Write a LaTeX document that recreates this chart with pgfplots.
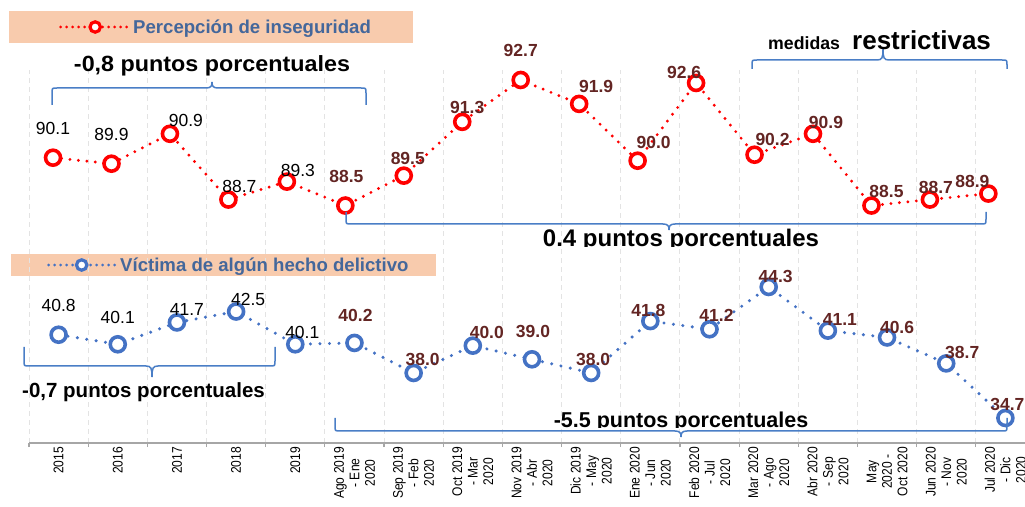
\documentclass[border=0pt]{standalone}
\usepackage{pgfplots}
\pgfplotsset{compat=1.18}
\usepackage{pgfplotstable}
\usepackage{graphicx}
\usepackage{fontspec}
\setmainfont{Liberation Sans}
\newfontfamily\narrowfont[FakeStretch=0.86]{Liberation Sans}
\definecolor{dred}{HTML}{632523}
\definecolor{legblue}{HTML}{44679B}
\definecolor{peach}{HTML}{F8CBAD}
\definecolor{mblue}{HTML}{4472C4}
\definecolor{bcol}{HTML}{4A7EC6}
\definecolor{axgray}{HTML}{A6A6A6}
\definecolor{gridc}{HTML}{E3E3E3}

\pgfplotstableread{
x y dx dy
0 90.1 0 29
1 89.9 0 29
2 90.9 16 13
3 88.7 11 13
4 89.3 11 11
5 88.5 1 29
6 89.5 4 17
7 91.3 5 14
8 92.7 0 29
9 91.9 17 17
10 90.0 16 18
11 92.6 -12 10
12 90.2 18 15
13 90.9 13 11
14 88.5 15 14
15 88.7 6 12
16 88.9 -16 12
}\topdata

\pgfplotstableread{
x y dx dy
0 40.8 0 29
1 40.1 0 27
2 41.7 10 13
3 42.5 12 12
4 40.1 7 12
5 40.2 1 27
6 38.0 9 13
7 40.0 14 13
8 39.0 1 28
9 38.0 2 13
10 41.8 -2 11
11 41.2 7 14
12 44.3 7 10
13 41.1 12 11
14 40.6 10 10
15 38.7 16 11
16 34.7 2 14
}\botdata

\pgfplotsset{lblstyle/.style={
  forget plot, draw=none, mark=none,
  point meta=explicit symbolic,
  visualization depends on={\thisrow{dx}\as\ldx},
  visualization depends on={\thisrow{dy}\as\ldy},
  nodes near coords,
  nodes near coords style={anchor=center, inner sep=0pt, xshift=\ldx pt, yshift=\ldy pt,
    font=\fontsize{17.5}{20}\selectfont, text=black}
}}
\pgfplotsset{lblbold/.style={lblstyle,
  nodes near coords style={font=\bfseries\fontsize{17.5}{20}\selectfont, text=dred}}}

\begin{document}
\begin{tikzpicture}
\path[use as bounding box] (0,0) rectangle (1025pt,506pt);
\clip (0,0) rectangle (1025pt,506pt);

% legend boxes
\fill[peach] (9pt,463pt) rectangle (413pt,495pt);
\fill[peach] (11pt,230pt) rectangle (436pt,252pt);

% background axis with bottom series
\begin{axis}[
  at={(29pt,63pt)}, anchor=south west, scale only axis,
  width=1006pt, height=373pt,
  xmin=-0.5, xmax=16.5, ymin=32.868, ymax=60.195,
  axis x line*=bottom, axis y line=none, ytick=\empty,
  xtick={0,...,16},
  xticklabels={2015,2016,2017,2018,2019,
    {Ago 2019\\- Ene\\2020},{Sep 2019\\- Feb\\2020},{Oct 2019\\- Mar\\2020},
    {Nov 2019\\- Abr\\2020},{Dic 2019\\- May\\2020},{Ene 2020\\- Jun\\2020},
    {Feb 2020\\- Jul\\2020},{Mar 2020\\- Ago\\2020},{Abr 2020\\- Sep\\2020},
    {May\\2020 -\\Oct 2020},{Jun 2020\\- Nov\\2020},{Jul 2020\\- Dic\\2020}},
  xticklabel style={font=\narrowfont\fontsize{14}{15.5}\selectfont, yshift=-4pt, rotate=90, anchor=east, align=center, inner sep=0pt},
  major tick length=0pt,
  minor xtick={-0.5,0.5,...,16.5},
  minor tick length=4pt, tick align=outside,
  xminorgrids=true,
  minor x grid style={gridc, line width=1pt, dash pattern=on 5pt off 4pt},
  axis line style={axgray, line width=2pt},
  tick style={axgray, line width=1.2pt},
  clip=false,
  legend style={font=\bfseries\fontsize{18.6}{22}\selectfont, text=legblue, draw=none, fill=none,
    at={(0.01789,0.4772)}, anchor=west, inner sep=0pt},
  legend image code/.code={
    \draw[mblue, line width=3pt, line cap=round, dash pattern=on 0pt off 6pt] (0pt,0pt) -- (68pt,0pt);
    \draw[mblue, solid, mark=*, mark size=5.2pt, mark options={solid, fill=white, draw=mblue, line width=3.2pt}] plot coordinates {(33pt,0pt)};
  },
]
\addplot[mblue, line width=3.4pt, line cap=round, dash pattern=on 0pt off 9.5pt,
  mark=*, mark size=7.5pt, mark options={solid, fill=white, draw=mblue, line width=3.6pt}]
  table[x=x, y=y] {\botdata};
\addlegendentry{Víctima de algún hecho delictivo}
\addplot[lblstyle, restrict x to domain=-1:4.5] table[x=x, y=y, meta=y] {\botdata};
\addplot[lblbold, restrict x to domain=4.5:17] table[x=x, y=y, meta=y] {\botdata};
\end{axis}

% top series
\begin{axis}[
  at={(23.8pt,285.5pt)}, anchor=south west, scale only axis,
  width=993.8pt, height=149.5pt,
  xmin=-0.5, xmax=16.5, ymin=88, ymax=93,
  hide axis, clip=false,
  legend style={font=\bfseries\fontsize{18.6}{22}\selectfont, text=legblue, draw=none, fill=none,
    at={(0.03542,1.2943)}, anchor=west, inner sep=0pt},
  legend image code/.code={
    \draw[red, line width=3pt, line cap=round, dash pattern=on 0pt off 6pt] (0pt,0pt) -- (69pt,0pt);
    \draw[red, solid, mark=*, mark size=5.2pt, mark options={solid, fill=white, draw=red, line width=3.2pt}] plot coordinates {(34.5pt,0pt)};
  },
]
\addplot[red, line width=3.2pt, line cap=round, dash pattern=on 0pt off 8.5pt,
  mark=*, mark size=7.5pt, mark options={solid, fill=white, draw=red, line width=3.6pt}]
  table[x=x, y=y] {\topdata};
\addlegendentry{Percepción de inseguridad}
\addplot[lblstyle, restrict x to domain=-1:4.5] table[x=x, y=y, meta=y] {\topdata};
\addplot[lblbold, restrict x to domain=4.5:17] table[x=x, y=y, meta=y] {\topdata};
\end{axis}

% annotations in image coordinates (y downward)
\begin{scope}[yshift=506pt, x=1pt, y=-1pt]
\tikzset{bc/.style={bcol, line width=1.5pt}}
\draw[bc] (52,105) -- (52,93) .. controls (52,88) .. (57,88) -- (206,88) .. controls (211,88) and (212,86) .. (212,82)
  .. controls (212,86) and (213,88) .. (218,88) -- (361,88) .. controls (366,88) .. (366,93) -- (366,105);
\draw[bc] (752,69) -- (752,65) .. controls (752,60) .. (757,60) -- (877,60) .. controls (882,60) and (883,58) .. (883,49)
  .. controls (883,58) and (884,60) .. (889,60) -- (1002,60) .. controls (1007,60) .. (1007,65) -- (1007,69);
\draw[bc] (346,212) -- (346,219) .. controls (346,224) .. (351,224) -- (663,224) .. controls (668,224) and (669,226) .. (669,230)
  .. controls (669,226) and (670,224) .. (675,224) -- (981,224) .. controls (986,224) .. (986,219) -- (986,212);
\draw[bc] (24,347) -- (24,361) .. controls (24,366) .. (29,366) -- (146,366) .. controls (151,366) and (152,368) .. (152,377)
  .. controls (152,368) and (153,366) .. (158,366) -- (270,366) .. controls (275,366) .. (275,361) -- (275,347);
\draw[bc] (335,418) -- (335,426) .. controls (335,431) .. (340,431) -- (675,431) .. controls (680,431) and (681,433) .. (681,437)
  .. controls (681,433) and (682,431) .. (687,431) -- (1002,431) .. controls (1007,431) .. (1007,426) -- (1007,418);

\node[anchor=base, inner sep=0pt, font=\bfseries\fontsize{22}{24}\selectfont] at (212,72) {\scalebox{1.06}[1]{-0,8 puntos\ porcentuales}};
\node[anchor=base west, inner sep=0pt, font=\bfseries\fontsize{17.7}{20}\selectfont] at (768,50) {medidas};
\node[anchor=base west, inner sep=0pt, font=\bfseries\fontsize{26}{28}\selectfont] at (852,50) {restrictivas};
\node[anchor=base west, inner sep=0pt, font=\bfseries\fontsize{20.5}{22}\selectfont] at (22,398) {-0,7 puntos\ porcentuales};
\begin{scope}
\clip (300,200) rectangle (1025,247);
\node[anchor=base, inner sep=0pt, font=\bfseries\fontsize{24}{26}\selectfont] at (681,247) {0.4 puntos porcentuales};
\end{scope}
\begin{scope}
\clip (300,390) rectangle (1025,428);
\node[anchor=base, inner sep=0pt, font=\bfseries\fontsize{21.5}{24}\selectfont] at (681,428) {-5.5 puntos porcentuales};
\end{scope}
\end{scope}
\end{tikzpicture}
\end{document}
